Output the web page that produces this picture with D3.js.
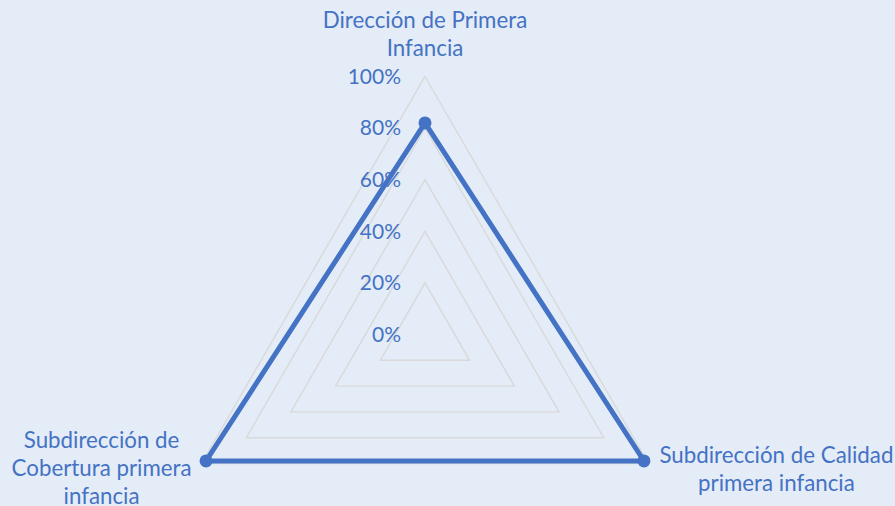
<!DOCTYPE html>
<html>
<head>
<meta charset="utf-8">
<script src="https://cdn.jsdelivr.net/npm/d3@7"></script>
<style>
  html, body { margin: 0; padding: 0; background: #E4ECF7; }
  svg { display: block; }
  text { font-family: Lato, "Open Sans", sans-serif; fill: #4472C4; }
</style>
</head>
<body>
<svg id="chart" width="895" height="506"></svg>
<script>
// ---- data ----
const categories = [
  "Dirección de Primera Infancia",
  "Subdirección de Calidad primera infancia",
  "Subdirección de Cobertura primera infancia"
];
const categoryLines = [
  ["Dirección de Primera", "Infancia"],
  ["Subdirección de Calidad", "primera infancia"],
  ["Subdirección de", "Cobertura primera", "infancia"]
];
const values = [0.82, 0.98, 0.98];
const tickValues = [0, 0.2, 0.4, 0.6, 0.8, 1.0];
const tickLabels = ["0%", "20%", "40%", "60%", "80%", "100%"];

// ---- layout ----
const W = 895, H = 506;
const cx = 425, cy = 334.5, R = 258;
const blue = "#4472C4";
const tickFont = 21;
const catFont = 22.3;

const svg = d3.select("#chart");
svg.append("rect").attr("width", W).attr("height", H).attr("fill", "#E4ECF7");

const r = d3.scaleLinear().domain([0, 1]).range([0, R]);
const angle = d3.scalePoint().domain(d3.range(categories.length)).range([0, 2 * Math.PI * (categories.length - 1) / categories.length]);

function pt(i, v) {
  const a = angle(i) - Math.PI / 2;
  return [cx + r(v) * Math.cos(a), cy + r(v) * Math.sin(a)];
}

const g = svg.append("g");

// grid rings
const lineGen = d3.line().curve(d3.curveLinearClosed);
tickValues.filter(t => t > 0).forEach(t => {
  g.append("path")
    .attr("d", lineGen(categories.map((c, i) => pt(i, t))))
    .attr("fill", "none")
    .attr("stroke", "#D9D9D9")
    .attr("stroke-width", 1.4);
});

// tick labels
g.selectAll("text.tick")
  .data(tickValues)
  .join("text")
  .attr("class", "tick")
  .attr("x", cx - 24)
  .attr("y", d => cy - r(d))
  .attr("dy", "0.35em")
  .attr("text-anchor", "end")
  .attr("font-size", tickFont)
  .text((d, i) => tickLabels[i]);

// data polygon
g.append("path")
  .attr("d", lineGen(values.map((v, i) => pt(i, v))))
  .attr("fill", "none")
  .attr("stroke", blue)
  .attr("stroke-width", 5)
  .attr("stroke-linejoin", "miter");

g.selectAll("circle.mark")
  .data(values)
  .join("circle")
  .attr("class", "mark")
  .attr("cx", (v, i) => pt(i, v)[0])
  .attr("cy", (v, i) => pt(i, v)[1])
  .attr("r", 6.5)
  .attr("fill", blue);

// category labels
const lineH = 28;
const labelAnchors = [
  (p) => [p[0], p[1] - 28 - lineH],   // top
  (p) => [p[0] + 128, p[1] - 8.5],    // right
  (p) => [p[0] - 100, p[1] - 23.5]    // left
];
categoryLines.forEach((lines, i) => {
  const p = pt(i, 1);
  const [x, y0] = labelAnchors[i](p);
  const t = g.append("text")
    .attr("text-anchor", "middle")
    .attr("font-size", catFont);
  lines.forEach((ln, k) => {
    t.append("tspan")
      .attr("x", x)
      .attr("y", y0 + k * lineH)
      .attr("dy", "0.35em")
      .text(ln);
  });
});
</script>
</body>
</html>
